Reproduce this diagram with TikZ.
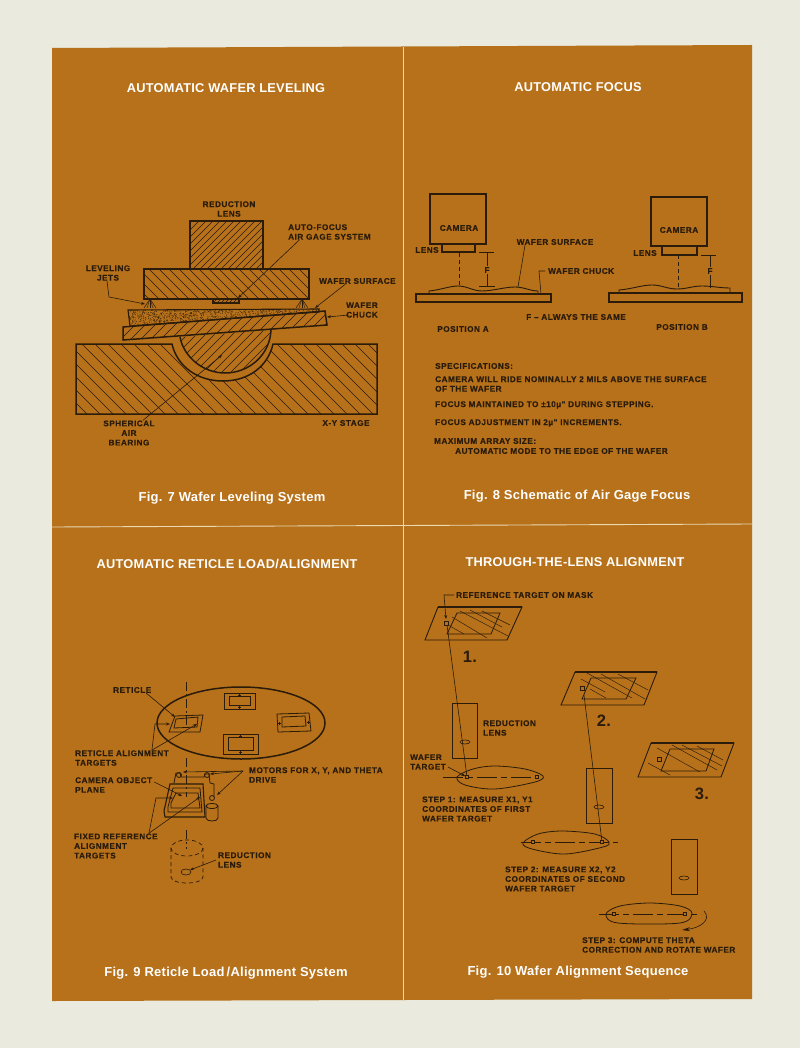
\documentclass[tikz,border=0pt]{standalone}
\usepackage{fontspec}
\setmainfont{Liberation Sans}
\newfontface\lblface[LetterSpace=6,FakeBold=0.25]{Liberation Sans Bold}
\newfontface\titleface[LetterSpace=2]{Liberation Sans Bold}
\usetikzlibrary{arrows.meta}
\definecolor{paper}{HTML}{EAEADF}
\definecolor{panel}{HTML}{B6711A}
\definecolor{ink}{HTML}{2B1B0A}
\definecolor{rule}{HTML}{EBD9B4}
\tikzset{
	lbl/.style={font=\fontsize{8.2}{9.6}\selectfont\lblface, text=ink, inner sep=0pt, anchor=west, align=left},
	lblc/.style={lbl, anchor=center, align=center},
	numero/.style={font=\fontsize{16.5}{16.5}\selectfont\titleface, text=ink, inner sep=0pt},
	titre/.style={font=\fontsize{12.8}{14}\selectfont\titleface, text=white, inner sep=0pt},
	legende/.style={font=\fontsize{13}{14}\selectfont\titleface, text=white, inner sep=0pt},
	fort/.style={draw=ink, line width=1.5pt},
	moyen/.style={draw=ink, line width=1.1pt},
	cadre/.style={draw=ink, line width=0.8pt},
	fin/.style={draw=ink, line width=0.6pt},
	lead/.style={draw=ink, line width=0.6pt, -{Stealth[length=4pt,width=3pt]}},
	trait/.style={draw=ink, line width=0.45pt},
	axe/.style={draw=ink, line width=0.6pt, dash pattern=on 9pt off 3pt on 2pt off 3pt},
	tirets/.style={draw=ink, line width=0.7pt, dash pattern=on 4pt off 3pt},
}
% hachures dans un contour
\newcommand{\hachmonte}[2]{%
	\begin{scope}
		\clip #2;
		\foreach \n in {0,...,200} \draw[trait] ({\n*#1},0)--({\n*#1-1000},1000);
	\end{scope}}
\newcommand{\hachdesc}[2]{%
	\begin{scope}
		\clip #2;
		\foreach \n in {0,...,200} \draw[trait] ({\n*#1-600},0)--({\n*#1+400},1000);
	\end{scope}}
% plaque avec masque
\newcommand{\plaque}[9]{%
	\draw[moyen, line width=0.9pt] #1--#2--#3--#4--cycle;
	\draw[fort] #1--#2;
	\draw[cadre] #5--#6--#7--#8--cycle;
	\draw[fin] #9 ++(-2,-2) rectangle ++(4,4);}
\begin{document}
\begin{tikzpicture}[x=1pt, y=-1pt]
	\useasboundingbox (0,0) rectangle (800,1048);
	\fill[paper] (0,0) rectangle (800,1048);
	\fill[panel] (52,48)--(752,45)--(752,999)--(52,1001)--cycle;
	\draw[rule, line width=0.9pt] (403,47)--(403,1000);
	\draw[rule, line width=0.9pt] (52,527)--(752,524);
	% titres
	\node[titre] (titreA) at (226,88) {AUTOMATIC WAFER LEVELING};
	\node[titre] (titreB) at (578,87) {AUTOMATIC FOCUS};
	\node[titre] (titreC) at (227,564) {AUTOMATIC RETICLE LOAD/ALIGNMENT};
	\node[titre] (titreD) at (575,562) {THROUGH-THE-LENS ALIGNMENT};
	\node[legende] (legA) at (232,498) {Fig. 7 Wafer Leveling System};
	\node[legende] (legB) at (577,496) {Fig. 8 Schematic of Air Gage Focus};
	\node[legende] (legC) at (226,973) {Fig. 9 Reticle Load\,/Alignment System};
	\node[legende] (legD) at (578,972) {Fig. 10 Wafer Alignment Sequence};

	% figure 7
	\hachmonte{7}{(190,221) rectangle (263,269)}
	\draw[fort] (190,221) rectangle (263,269);
	\hachdesc{10}{(144,269) rectangle (309,299)}
	\draw[fort] (144,269) rectangle (309,299);
	\hachmonte{4}{(213,299) rectangle (239,303)}
	\draw[moyen] (213,299) rectangle (239,303);
	\begin{scope}
		\clip (128,310)--(319,309)--(319,312)--(130,326)--cycle;
		\pgfmathsetseed{7}
		\foreach \k in {1,...,1500} \fill[ink] ({128+191*rnd},{309+18*rnd}) circle (0.38);
	\end{scope}
	\draw[moyen] (128,310)--(319,309)--(319,312)--(130,326)--cycle;
	\hachmonte{10}{(123,327)--(325,311)--(327,325)--(123,340)--cycle}
	\draw[fort] (123,327)--(325,311)--(327,325)--(123,340)--cycle;
	\hachdesc{13}{(76,344)--(172,344) .. controls (177,366) and (197,381) .. (223,381) .. controls (249,381) and (268,366) .. (273,344)--(377,344)--(377,414)--(76,414)--cycle}
	\draw[fort] (76,344)--(172,344) .. controls (177,366) and (197,381) .. (223,381) .. controls (249,381) and (268,366) .. (273,344)--(377,344)--(377,414)--(76,414)--cycle;
	\hachmonte{9}{(180,337) .. controls (184,358) and (204,373) .. (225,373) .. controls (249,373) and (270,355) .. (271,330)--cycle}
	\draw[fort] (180,337) .. controls (184,358) and (204,373) .. (225,373) .. controls (249,373) and (270,355) .. (271,330);
	% jets
	\foreach \xj in {150,302} {
		\foreach \d in {-6,-3,0,3,6} \draw[trait] (\xj,299)--(\xj+\d,308);
	}
	\node[lblc] (reductionA) at (229,209) {REDUCTION\\LENS};
	\node[lbl] (autofocus) at (288,232) {AUTO-FOCUS\\AIR GAGE SYSTEM};
	\node[lblc] (jets) at (108,273) {LEVELING\\JETS};
	\node[lbl] (surfaceA) at (319,281) {WAFER SURFACE};
	\node[lblc] (chuckA) at (362,310) {WAFER\\CHUCK};
	\node[lblc] (sphere) at (129,433) {SPHERICAL\\AIR\\BEARING};
	\node[lblc] (stage) at (346,423) {X-Y STAGE};
	\coordinate (pointeFocus) at (238,298);
	\coordinate (pointeJets) at (145,304);
	\coordinate (pointeSurface) at (315,308);
	\coordinate (pointeChuck) at (327,317);
	\coordinate (pointeSphere) at (222,355);
	\draw[lead] ([xshift=-30pt]autofocus.south)--(pointeFocus);
	\draw[lead] ([xshift=-1pt]jets.south)--(109,297)--(pointeJets);
	\draw[lead] ([xshift=-12pt]surfaceA.south)--(pointeSurface);
	\draw[lead] ([xshift=3pt,yshift=-5pt]chuckA.west)--(pointeChuck);
	\draw[lead] ([xshift=14pt]sphere.north)--(pointeSphere);

	% figure 8, position A
	\draw[moyen] (430,194) rectangle (486,244);
	\draw[moyen] (442,244) rectangle (475,252);
	\draw[tirets] (459,253)--(459,287);
	\draw[moyen] (416,294) rectangle (551,302);
	\draw[fin, line width=0.9pt] (429,294)--(429,291) .. controls (440,290) and (450,286) .. (458,286) .. controls (467,286) and (473,291) .. (482,291) .. controls (492,291) and (505,287) .. (515,287) .. controls (524,287) and (530,291) .. (538,291)--(538,294);
	\draw[fin] (479,252)--(494,252);
	\draw[fin] (479,286)--(495,286);
	\node[lblc, inner sep=1pt] (fA) at (487,270) {F};
	\draw[fin] (487,252)--(fA)--(487,286);
	\node[lblc] (cameraA) at (459,228) {CAMERA};
	\node[lblc] (lensA) at (427,250) {LENS};
	\node[lblc] (surfaceB) at (555,242) {WAFER SURFACE};
	\node[lbl] (chuckB) at (548,271) {WAFER CHUCK};
	\coordinate (pointeWafer) at (518,287);
	\coordinate (pointeBase) at (541,294);
	\draw[fin] ([xshift=-30pt]surfaceB.south)--(pointeWafer);
	\draw[fin] ([xshift=-3pt]chuckB.west)--(539,271)--(pointeBase);
	% position B
	\draw[moyen] (651,197) rectangle (707,246);
	\draw[moyen] (662,246) rectangle (697,255);
	\draw[tirets] (678,255)--(678,288);
	\draw[moyen] (609,293) rectangle (742,302);
	\draw[fin, line width=0.9pt] (619,293)--(619,290) .. controls (632,289) and (642,285) .. (652,285) .. controls (662,285) and (667,289) .. (677,289) .. controls (687,289) and (692,286) .. (702,286) .. controls (712,286) and (720,288) .. (730,288)--(730,293);
	\draw[fin] (701,255)--(716,255);
	\node[lblc, inner sep=1pt] (fB) at (710,271) {F};
	\draw[fin] (710,255)--(fB)--(710,288);
	\node[lblc] (cameraB) at (679,230) {CAMERA};
	\node[lblc] (lensB) at (645,253) {LENS};
	\node[lblc] (toujours) at (576,317) {F – ALWAYS THE SAME};
	\node[lblc] (posA) at (463,329) {POSITION A};
	\node[lblc] (posB) at (682,327) {POSITION B};
	% specifications
	\node[lbl] (spec0) at (435,366) {SPECIFICATIONS:};
	\node[lbl] (spec1) at (435,384) {CAMERA WILL RIDE NOMINALLY 2 MILS ABOVE THE SURFACE\\OF THE WAFER};
	\node[lbl] (spec2) at (435,405) {FOCUS MAINTAINED TO ±10µ" DURING STEPPING.};
	\node[lbl] (spec3) at (435,423) {FOCUS ADJUSTMENT IN 2µ" INCREMENTS.};
	\node[lbl] (spec4) at (434,441) {MAXIMUM ARRAY SIZE:};
	\node[lbl] (spec5) at (455,451) {AUTOMATIC MODE TO THE EDGE OF THE WAFER};

	% figure 9
	\draw[fort] (241,723) ellipse (84 and 36);
	\draw[cadre] (224,693) rectangle (255,709);
	\draw[cadre] (229,696) rectangle (250,705);
	\draw[cadre] (277,714)--(309,713)--(311,731)--(278,732)--cycle;
	\draw[cadre] (282,717)--(305,716)--(306,726)--(282,727)--cycle;
	\draw[cadre] (223,734) rectangle (258,754);
	\draw[cadre] (228,737) rectangle (253,750);
	\draw[cadre] (175,716)--(203,715)--(200,732)--(169,732)--cycle;
	\draw[cadre] (176,719)--(198,717)--(197,727)--(174,728)--cycle;
	% reperes des cadres
	\foreach \xr/\yr in {239.5/695, 239.5/707, 240.5/736, 240.5/752, 279.5/723, 308/722} {
		\draw[trait] (\xr-1.5,\yr)--(\xr+1.5,\yr);
		\draw[trait] (\xr,\yr-1.5)--(\xr,\yr+1.5);
	}
	\draw[axe] (186,682)--(186,727);
	\draw[axe] (186,758)--(186,797);
	\draw[axe] (186,830)--(186,849);
	% platine
	\draw[moyen] (164,811)--(170,784)--(203,784)--(205,817)--(165,817)--cycle;
	\draw[cadre] (168,807)--(173,788)--(200,788)--(202,812)--(168,812)--cycle;
	\draw[cadre] (171,803)--(176,793)--(198,793)--(200,808)--(171,808)--cycle;
	\draw[cadre] (174,783)--(176,773)--(180,773)--(181,777)--(204,777)--(205,774)--(209,774)--(210,783)--(214,784)--(214,797);
	\draw[cadre] (179,775) circle (2.5);
	\draw[cadre] (207,775) circle (2.5);
	\draw[cadre] (212,798) circle (2.5);
	\draw[cadre] (206,806)--(206,818) .. controls (206,822) and (218,822) .. (218,818)--(218,806);
	\draw[cadre] (212,806) ellipse (6 and 2.5);
	% objectif
	\draw[tirets] (187,848) ellipse (16 and 8);
	\draw[tirets] (171,848)--(171,877) .. controls (171,885) and (203,885) .. (203,877)--(203,848);
	\draw[fin] (186,872) ellipse (5 and 3);
	\node[lbl] (reticle) at (113,690) {RETICLE};
	\node[lbl] (alignR) at (75,758) {RETICLE ALIGNMENT\\TARGETS};
	\node[lbl] (objet) at (75,785) {CAMERA OBJECT\\PLANE};
	\node[lbl] (moteurs) at (249,775) {MOTORS FOR X, Y, AND THETA\\DRIVE};
	\node[lbl] (fixes) at (74,846) {FIXED REFERENCE\\ALIGNMENT\\TARGETS};
	\node[lbl] (reductionB) at (218,860) {REDUCTION\\LENS};
	\coordinate (pReticle) at (175,717);
	\coordinate (pCibleG) at (170,724);
	\coordinate (pCibleD) at (197,724);
	\coordinate (pObjet) at (182,796);
	\coordinate (pMot1) at (183,772);
	\coordinate (pMot2) at (210,774);
	\coordinate (pMot3) at (217,795);
	\coordinate (pFixeG) at (173,798);
	\coordinate (pFixeD) at (200,797);
	\coordinate (pLens) at (190,870);
	\draw[lead] ([xshift=14pt]reticle.south)--(pReticle);
	\draw[lead] ([xshift=30pt]alignR.north)--(155,724)--(pCibleG);
	\draw[lead] ([xshift=30pt]alignR.north)--(pCibleD);
	\draw[lead] ([xshift=2pt,yshift=3pt]objet.east)--(pObjet);
	\draw[lead] ([xshift=-6pt,yshift=4pt]moteurs.west)--(pMot1);
	\draw[lead] ([xshift=-6pt,yshift=4pt]moteurs.west)--(pMot2);
	\draw[lead] ([xshift=-6pt,yshift=4pt]moteurs.west)--(pMot3);
	\draw[lead] ([xshift=33pt]fixes.north)--(156,798)--(pFixeG);
	\draw[lead] ([xshift=33pt]fixes.north)--(pFixeD);
	\draw[lead] ([xshift=-2pt]reductionB.west)--(pLens);

	% figure 10, plaque 1
	\plaque{(438,607)}{(522,607)}{(507,640)}{(425,640)}{(457,613)}{(500,613)}{(491,634)}{(447,634)}{(446,623)}
	\draw[trait] (460,611)--(508,636);
	\draw[trait] (470,610)--(502,627);
	\draw[trait] (482,611)--(510,625);
	\draw[trait] (452,617)--(487,638);
	\draw[trait] (448,625)--(464,634);
	\node[numero] (un) at (470,657) {1.};
	% plaque 2
	\plaque{(575,672)}{(657,672)}{(644,705)}{(561,705)}{(591,678)}{(636,678)}{(626,699)}{(582,699)}{(582,688)}
	\draw[trait] (587,673)--(632,698);
	\draw[trait] (601,674)--(645,699);
	\draw[trait] (618,674)--(648,690);
	\draw[trait] (590,689)--(606,698);
	\draw[trait] (581,679)--(605,692);
	\node[numero] (deux) at (604,721) {2.};
	% plaque 3
	\plaque{(651,743)}{(734,743)}{(721,777)}{(638,777)}{(670,749)}{(714,749)}{(706,771)}{(661,771)}{(659,759)}
	\draw[trait] (657,748)--(700,772);
	\draw[trait] (672,745)--(717,770);
	\draw[trait] (682,745)--(722,766);
	\draw[trait] (648,763)--(670,775);
	\draw[trait] (697,746)--(723,760);
	\node[numero] (trois) at (702,794) {3.};
	% objectifs
	\draw[cadre] (452,703) rectangle (477,758);
	\draw[fin] (465,742) ellipse (5 and 2);
	\draw[cadre] (586,768) rectangle (612,823);
	\draw[fin] (599,807) ellipse (5 and 2);
	\draw[cadre] (671,839) rectangle (697,894);
	\draw[fin] (684,878) ellipse (5 and 2);
	% tranches
	\draw[cadre] plot[smooth cycle, tension=0.55] coordinates {(457,777) (473,769) (495,766) (525,769) (543,776) (535,782) (495,789) (465,785)};
	\draw[cadre] plot[smooth cycle, tension=0.55] coordinates {(523,843) (538,834) (562,831) (595,834) (609,842) (603,847) (565,854) (532,849)};
	\draw[cadre] plot[smooth cycle, tension=0.55] coordinates {(606,914) (620,906) (650,903) (680,906) (692,913) (680,923) (618,923)};
	\draw[axe, dash pattern=on 20pt off 4pt on 6pt off 4pt] (443,777)--(538,777);
	\draw[axe, dash pattern=on 20pt off 4pt on 6pt off 4pt] (521,842)--(618,842);
	\draw[axe, dash pattern=on 20pt off 4pt on 6pt off 4pt] (599,914)--(701,914);
	\foreach \xc/\yc/\nom in {467/777/ciA, 537/777/ciB, 533/842/ciC, 602/842/ciD, 614/914/ciE, 685/914/ciF} {
		\node[fin, fill=panel, minimum size=3pt, inner sep=0pt, draw] (\nom) at (\xc,\yc) {};
	}
	\draw[fin] (447,625)--(ciA);
	\draw[fin] (584,695)--(ciD);
	\draw[lead, -{Stealth[length=8pt,width=4pt]}] (704,911) .. controls (712,920) and (700,928) .. (682,930);
	\node[lbl] (masque) at (456,595) {REFERENCE TARGET ON MASK};
	\node[lbl] (reductionC) at (483,728) {REDUCTION\\LENS};
	\node[lbl] (cibleW) at (410,762) {WAFER\\TARGET};
	\node[lbl] (step1) at (422,809) {STEP 1: MEASURE X1, Y1\\COORDINATES OF FIRST\\WAFER TARGET};
	\node[lbl] (step2) at (505,879) {STEP 2: MEASURE X2, Y2\\COORDINATES OF SECOND\\WAFER TARGET};
	\node[lbl] (step3) at (582,945) {STEP 3: COMPUTE THETA\\CORRECTION AND ROTATE WAFER};
	\coordinate (pMasque) at (446,619);
	\draw[lead] ([xshift=-2pt]masque.west)--(444,595)--(pMasque);
	\draw[lead] ([xshift=2pt,yshift=-5pt]cibleW.east)--(ciA);
\end{tikzpicture}
\end{document}
